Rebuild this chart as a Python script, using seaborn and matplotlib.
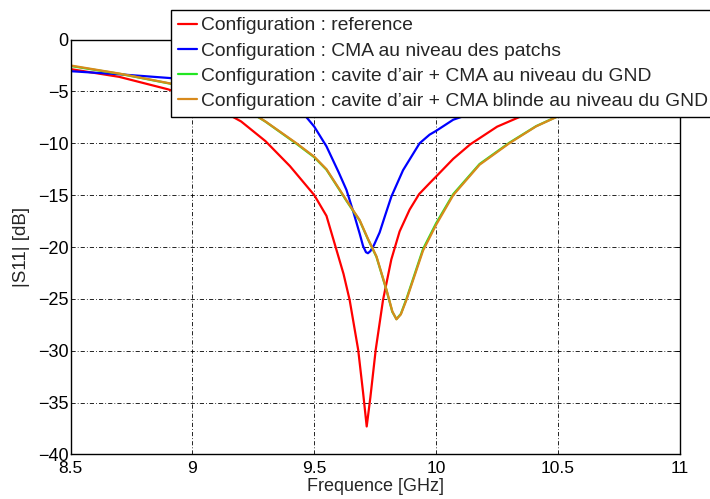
import matplotlib
matplotlib.use("Agg")
import matplotlib.pyplot as plt
import pandas as pd
import seaborn as sns

# frequency [GHz] / |S11| [dB]
freq_ref = [8.5, 8.7, 8.9, 9.0, 9.1, 9.2, 9.3, 9.4, 9.5, 9.55, 9.59, 9.62, 9.645, 9.68, 9.70, 9.715,
            9.73, 9.752, 9.782, 9.816, 9.85, 9.891, 9.93, 9.975, 10.0, 10.07, 10.14, 10.25, 10.38, 10.5,
            10.6, 10.7, 10.8, 10.9, 11.0]
s11_ref = [-2.85, -3.6, -4.8, -5.6, -6.6, -7.9, -9.8, -12.2, -15.0, -17.0, -20.2, -22.6, -25.1, -29.9, -34.0, -37.3,
           -34.5, -29.9, -25.1, -21.2, -18.5, -16.4, -14.9, -13.8, -13.2, -11.5, -10.1, -8.4, -7.08, -6.0,
           -5.2, -4.6, -4.1, -3.7, -3.3]

freq_patch = [8.5, 8.7, 8.9, 9.0, 9.1, 9.2, 9.3, 9.4, 9.454, 9.5, 9.55, 9.6, 9.632, 9.66, 9.686, 9.70,
              9.712, 9.72, 9.73, 9.745, 9.768, 9.79, 9.816, 9.864, 9.932, 9.973, 10.0, 10.07, 10.15, 10.3,
              10.5, 10.7, 11.0]
s11_patch = [-3.05, -3.35, -3.7, -3.9, -4.2, -4.5, -5.0, -6.0, -7.1, -8.4, -10.3, -12.8, -14.5, -16.6, -18.7, -19.9,
             -20.5, -20.6, -20.4, -19.8, -18.6, -17.0, -15.15, -12.6, -10.0, -9.17, -8.8, -7.73, -7.08, -6.0,
             -4.9, -4.1, -3.4]

freq_gnd = [8.5, 8.7, 8.908, 9.0, 9.1, 9.236, 9.3, 9.427, 9.5, 9.55, 9.605, 9.632, 9.686, 9.72, 9.755, 9.796,
            9.82, 9.837, 9.855, 9.878, 9.946, 10.0, 10.07, 10.178, 10.30, 10.41, 10.5, 10.6, 10.7, 10.9, 11.0]
s11_gnd = [-2.55, -3.3, -4.25, -4.82, -5.62, -6.98, -7.92, -10.05, -11.35, -12.55, -14.55, -15.55, -17.45, -19.25, -20.95, -24.15,
           -26.25, -26.95, -26.45, -25.0, -20.2, -17.7, -14.9, -12.0, -9.95, -8.35, -7.38, -6.5, -5.8, -4.7, -4.3]

freq_blinde = [8.5, 8.7, 8.908, 9.0, 9.1, 9.236, 9.3, 9.427, 9.5, 9.55, 9.605, 9.632, 9.686, 9.72, 9.755, 9.796,
               9.82, 9.837, 9.855, 9.878, 9.946, 10.0, 10.07, 10.178, 10.30, 10.41, 10.5, 10.6, 10.7, 10.9, 11.0]
s11_blinde = [-2.5, -3.28, -4.23, -4.8, -5.6, -6.96, -7.9, -10.0, -11.3, -12.5, -14.5, -15.5, -17.4, -19.2, -20.9, -24.1,
              -26.2, -26.97, -26.5, -25.1, -20.35, -17.85, -15.0, -12.07, -10.0, -8.37, -7.4, -6.55, -5.85, -4.75, -4.35]

labels = ["Configuration : reference",
          "Configuration : CMA au niveau des patchs",
          "Configuration : cavite d\u2019air + CMA au niveau du GND",
          "Configuration : cavite d\u2019air + CMA blinde au niveau du GND"]
colors = ["#ff0000", "#0000ff", "#22e622", "#d88a1c"]

x_ticks = [8.5, 9, 9.5, 10, 10.5, 11]
x_ticklabels = ["8.5", "9", "9.5", "10", "10.5", "11"]
y_ticks = [-40, -35, -30, -25, -20, -15, -10, -5, 0]

frames = []
for lab, f, s in zip(labels, [freq_ref, freq_patch, freq_gnd, freq_blinde],
                     [s11_ref, s11_patch, s11_gnd, s11_blinde]):
    frames.append(pd.DataFrame({"freq": f, "s11": s, "config": lab}))
df = pd.concat(frames, ignore_index=True)

sns.set_style("white")
plt.rcParams["font.family"] = ["Liberation Sans", "DejaVu Sans"]

fig = plt.figure(figsize=(7.1, 4.99), dpi=100)
ax = fig.add_axes([0.0993, 0.0892, 0.8584, 0.8316])
sns.lineplot(data=df, x="freq", y="s11", hue="config", hue_order=labels,
             palette=dict(zip(labels, colors)), estimator=None, sort=True,
             linewidth=1.6, ax=ax)

ax.set_xlim(8.5, 11)
ax.set_ylim(-40, 0)
ax.set_xticks(x_ticks)
ax.set_xticklabels(x_ticklabels)
ax.set_yticks(y_ticks)
ax.set_yticklabels([str(v).replace("-", "\u2212") for v in y_ticks])
ax.tick_params(axis="both", direction="in", length=4, width=0.6,
               top=True, right=True, colors="black")
ax.tick_params(axis="x", labelsize=12.5, pad=5)
ax.tick_params(axis="y", labelsize=13, pad=1.5)
ax.grid(True, color="black", linestyle=(0, (5, 2.5, 1, 2.5)), linewidth=0.6)
for sp in ax.spines.values():
    sp.set_visible(True)
    sp.set_color("black")
    sp.set_linewidth(1.0)

ax.set_xlabel("Frequence [GHz]", fontsize=13)
ax.set_ylabel("|S11| [dB]", fontsize=13.5)
ax.xaxis.set_label_coords(0.5, (454.5 - 478) / 415)
ax.yaxis.set_label_coords((30 - 70.5) / 609.5, 0.5)

leg = ax.legend(loc="upper left", bbox_to_anchor=(171 / 710, 1 - 10 / 499),
                bbox_transform=fig.transFigure, fontsize=13.9, frameon=True,
                fancybox=False, framealpha=1, edgecolor="black",
                handlelength=1.0, handletextpad=0.2, labelspacing=0.39,
                borderpad=0.36, borderaxespad=0)
leg.get_frame().set_linewidth(1.0)
leg.set_zorder(5)

fig.savefig("out.png", dpi=100)
